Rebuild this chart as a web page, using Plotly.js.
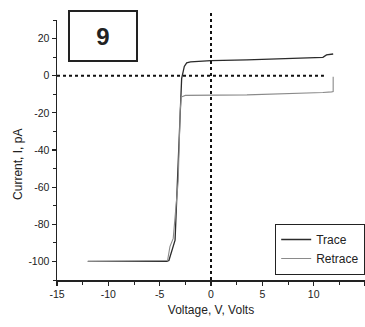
<!DOCTYPE html>
<html>
<head>
<meta charset="utf-8">
<script src="https://cdn.plot.ly/plotly-3.0.1.min.js"></script>
<style>
  html, body { margin: 0; padding: 0; background: #fff; }
  #plot { width: 365px; height: 327px; }
</style>
</head>
<body>
<div id="plot"></div>
<script>
// I-V sweep: forward (Trace) and reverse (Retrace)
var traceV   = [-12, -4.3, -4.1, -3.83, -3.5, -3.25, -3.0, -2.86, -2.6, -2.37, -2.0, 0, 3.5, 7, 10.9, 11.25, 11.9];
var traceI   = [-100, -100, -99.5, -94.9, -88.5, -54, -19, -1.6, 5, 6.9, 7.4, 8.1, 8.5, 9.2, 9.9, 11.2, 11.7];
var retraceV = [11.9, 11.9, 11.75, 10.9, 3.5, 0, -2.5, -2.9, -3.0, -3.2, -3.68, -4.0, -4.23, -12];
var retraceI = [-0.5, -8.5, -8.7, -9.0, -10.3, -10.4, -10.6, -11.5, -19, -57, -87.6, -92, -99.5, -100];

// axis ticks
var xTickVals = [-15, -10, -5, 0, 5, 10, 15];
var xTickText = ['-15', '-10', '-5', '0', '5', '10', '15'];
var yTickVals = [20, 0, -20, -40, -60, -80, -100];
var yTickText = ['20', '0', '-20', '-40', '-60', '-80', '-100'];

// dotted reference lines
var zeroLineEndV = 11;
var panelLabel = '9';

var font = 'Liberation Sans, Arial, sans-serif';

var data = [
  {
    x: traceV, y: traceI, name: 'Trace', type: 'scatter', mode: 'lines',
    line: { color: '#2b2b2b', width: 1.3 }
  },
  {
    x: retraceV, y: retraceI, name: 'Retrace', type: 'scatter', mode: 'lines',
    line: { color: '#8a8a8a', width: 1.1 }
  }
];

var axisCommon = {
  showgrid: false, zeroline: false, showline: true,
  linecolor: '#222', linewidth: 1.5,
  ticks: 'outside', ticklen: 4, tickwidth: 1.2, tickcolor: '#222',
  tickfont: { family: font, size: 10.5, color: '#222' },
  tickmode: 'array',
  fixedrange: true
};

var layout = {
  width: 365, height: 327,
  margin: { l: 57, r: 0, t: 20, b: 47 },
  paper_bgcolor: '#fff', plot_bgcolor: '#fff',
  showlegend: true,
  legend: {
    x: 1, xanchor: 'right', y: 0.02, yanchor: 'bottom',
    bordercolor: '#222', borderwidth: 1.2, bgcolor: '#fff',
    font: { family: font, size: 12, color: '#222' },
    itemwidth: 30, tracegroupgap: 0
  },
  xaxis: Object.assign({}, axisCommon, {
    range: [-15, 15],
    tickvals: xTickVals, ticktext: xTickText,
    minor: { dtick: 2.5, ticks: 'outside', ticklen: 3, tickcolor: '#222', tickwidth: 1 },
    title: { text: 'Voltage, V, Volts', font: { family: font, size: 12, color: '#222' }, standoff: 6 }
  }),
  yaxis: Object.assign({}, axisCommon, {
    range: [-110, 30],
    tickvals: yTickVals, ticktext: yTickText,
    minor: { dtick: 10, ticks: 'outside', ticklen: 3, tickcolor: '#222', tickwidth: 1 }
  }),
  shapes: [
    {
      type: 'line', xref: 'x', yref: 'y', x0: -15, x1: zeroLineEndV, y0: 0, y1: 0,
      line: { color: '#111', width: 2, dash: 'dot' }
    },
    {
      type: 'line', xref: 'x', yref: 'paper', x0: 0, x1: 0, y0: 0, y1: 1.03,
      line: { color: '#111', width: 2, dash: 'dot' }
    }
  ],
  annotations: [
    {
      text: '<b>' + panelLabel + '</b>', xref: 'paper', yref: 'paper',
      x: 0.148, y: 0.94, xanchor: 'center', yanchor: 'middle', showarrow: false,
      font: { family: font, size: 24, color: '#222' },
      bordercolor: '#222', borderwidth: 2, width: 64, height: 46, bgcolor: '#fff'
    },
    {
      text: 'Current, I, pA', xref: 'paper', yref: 'paper',
      x: -0.127, y: 0.446, xanchor: 'center', yanchor: 'middle', textangle: -90,
      showarrow: false, font: { family: font, size: 12, color: '#222' }
    }
  ]
};

Plotly.newPlot('plot', data, layout, { displayModeBar: false, staticPlot: true });
</script>
</body>
</html>
